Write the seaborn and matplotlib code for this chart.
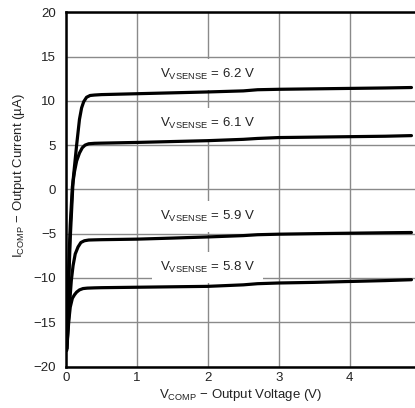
import numpy as np
import pandas as pd
import matplotlib
matplotlib.use("Agg")
import matplotlib.pyplot as plt
import seaborn as sns

# Output current vs. output voltage for four VSENSE levels
v_62 = [0.01, 0.03, 0.06, 0.10, 0.15, 0.19, 0.22, 0.25, 0.29, 0.34, 0.40, 0.50,
        1.0, 1.5, 2.0, 2.5, 2.7, 3.0, 3.5, 4.0, 4.5, 4.87]
i_62 = [-18.0, -12.5, -5.5, 1.0, 5.0, 7.9, 9.2, 9.9, 10.4, 10.6, 10.65, 10.7,
        10.8, 10.9, 11.0, 11.12, 11.25, 11.3, 11.35, 11.4, 11.45, 11.5]

v_61 = [0.01, 0.03, 0.06, 0.09, 0.12, 0.15, 0.19, 0.23, 0.27, 0.32, 0.40, 0.50,
        1.0, 1.5, 2.0, 2.5, 2.7, 3.0, 3.5, 4.0, 4.5, 4.87]
i_61 = [-18.0, -11.0, -4.0, 0.3, 2.0, 3.2, 4.1, 4.7, 5.0, 5.15, 5.2, 5.22,
        5.3, 5.4, 5.5, 5.65, 5.75, 5.85, 5.9, 5.95, 6.0, 6.07]

v_59 = [0.01, 0.03, 0.05, 0.075, 0.10, 0.13, 0.17, 0.21, 0.26, 0.32, 0.40, 0.50,
        1.0, 1.5, 2.0, 2.5, 2.7, 3.0, 3.5, 4.0, 4.5, 4.87]
i_59 = [-18.0, -15.6, -13.0, -10.3, -8.6, -7.3, -6.5, -6.0, -5.8, -5.72, -5.7, -5.68,
        -5.62, -5.5, -5.37, -5.22, -5.12, -5.06, -5.0, -4.95, -4.9, -4.87]

v_58 = [0.01, 0.025, 0.04, 0.06, 0.09, 0.12, 0.15, 0.19, 0.24, 0.30, 0.40, 0.50,
        1.0, 1.5, 2.0, 2.5, 2.7, 3.0, 3.5, 4.0, 4.5, 4.87]
i_58 = [-18.2, -16.5, -14.8, -13.3, -12.3, -11.9, -11.6, -11.35, -11.2, -11.15, -11.12, -11.1,
        -11.05, -11.0, -10.95, -10.78, -10.65, -10.57, -10.5, -10.4, -10.3, -10.2]

series_names = ["6.2", "6.1", "5.9", "5.8"]
label_text = ["V$_\\mathregular{VSENSE}$ = 6.2 V", "V$_\\mathregular{VSENSE}$ = 6.1 V",
              "V$_\\mathregular{VSENSE}$ = 5.9 V", "V$_\\mathregular{VSENSE}$ = 5.8 V"]
label_v = [2.0, 2.0, 2.0, 2.0]
label_i = [13.0, 7.4, -3.1, -8.8]

x_ticks = [0, 1, 2, 3, 4]
y_ticks = [-20, -15, -10, -5, 0, 5, 10, 15, 20]

sns.set_theme(style="white")
plt.rcParams["font.family"] = ["Liberation Sans", "DejaVu Sans"]
plt.rcParams["mathtext.fontset"] = "custom"
plt.rcParams["mathtext.rm"] = "Liberation Sans"
plt.rcParams["axes.unicode_minus"] = True

frames = []
for name, v, i in zip(series_names, [v_62, v_61, v_59, v_58], [i_62, i_61, i_59, i_58]):
    frames.append(pd.DataFrame({"V": v, "I": i, "VSENSE": name}))
df = pd.concat(frames, ignore_index=True)

fig = plt.figure(figsize=(4.15, 4.08), dpi=100)
ax = fig.add_axes([0.159, 0.1017, 0.841, 0.8683])

ax.grid(True, color="#8a8a8a", linewidth=1.0, zorder=0)
ax.set_axisbelow(True)

sns.lineplot(data=df, x="V", y="I", hue="VSENSE", units="VSENSE", estimator=None,
             sort=False, palette=["black"] * 4, linewidth=2.3, legend=False, ax=ax,
             zorder=3)

for txt, lx, ly in zip(label_text, label_v, label_i):
    ax.text(lx, ly, txt, ha="center", va="center", fontsize=9.5, color="#222222",
            bbox=dict(facecolor="white", edgecolor="none", boxstyle="square,pad=0.6"),
            zorder=2)

ax.set_xlim(0, 4.92)
ax.set_ylim(-20, 20)
ax.set_xticks(x_ticks)
ax.set_yticks(y_ticks)
ax.set_yticklabels([str(t).replace("-", "\u2212") for t in y_ticks])
ax.tick_params(axis="both", length=0, labelsize=9.5, colors="#222222")
ax.tick_params(axis="y", pad=7)
ax.tick_params(axis="x", pad=4)

for side in ["top", "left", "bottom"]:
    ax.spines[side].set_color("black")
    ax.spines[side].set_linewidth(1.8)
ax.spines["right"].set_visible(False)

ax.set_xlabel("V$_\\mathregular{COMP}$ \u2212 Output Voltage (V)", fontsize=9.5,
              color="#222222", labelpad=2)
ax.set_ylabel("I$_\\mathregular{COMP}$ \u2212 Output Current (\u00b5A)", fontsize=9.5,
              color="#222222")
ax.yaxis.set_label_coords(-0.113, 0.538)

fig.savefig("out.png", dpi=100)
